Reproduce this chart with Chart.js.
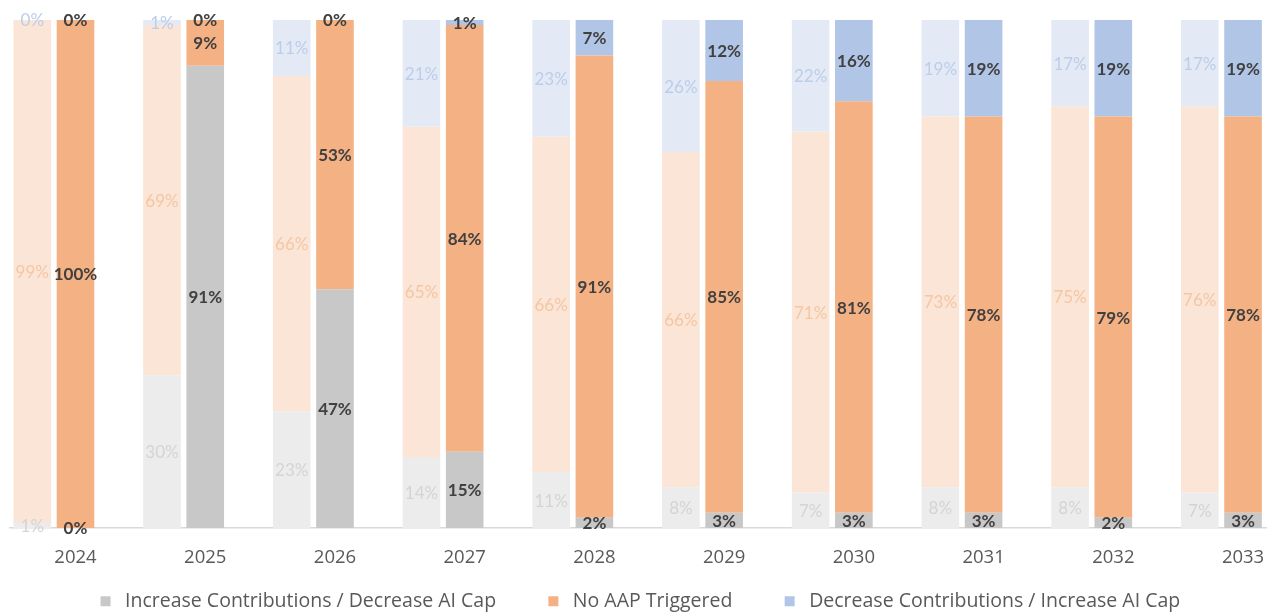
<!DOCTYPE html>
<html>
<head>
<meta charset="utf-8">
<script src="https://cdn.jsdelivr.net/npm/chart.js@4.4.1/dist/chart.umd.min.js"></script>
<style>
  html, body { margin: 0; padding: 0; background: #ffffff; overflow: hidden; }
  #wrap { width: 1276px; height: 612px; position: relative; }
</style>
</head>
<body>
<div id="wrap"><canvas id="chart"></canvas></div>
<script>
// Years on the x axis
const years = [2024, 2025, 2026, 2027, 2028, 2029, 2030, 2031, 2032, 2033];

// Series names
const seriesNames = [
  'Increase Contributions / Decrease AI Cap',
  'No AAP Triggered',
  'Decrease Contributions / Increase AI Cap'
];

// Prior-projection shares (%), drawn as the pale left bar of each year
const priorIncrease = [1, 30, 23, 14, 11, 8, 7, 8, 8, 7];
const priorNoAAP    = [99, 69, 66, 65, 66, 66, 71, 73, 75, 76];
const priorDecrease = [0, 1, 11, 21, 23, 26, 22, 19, 17, 17];

// Current-projection shares (%), drawn as the solid right bar of each year
const currIncrease  = [0, 91, 47, 15, 2, 3, 3, 3, 2, 3];
const currNoAAP     = [100, 9, 53, 84, 91, 85, 81, 78, 79, 78];
const currDecrease  = [0, 0, 0, 1, 7, 12, 16, 19, 19, 19];

// Colours
const solidColors = ['#c8c8c8', '#f4b183', '#b1c5e7'];
const paleColors  = ['#ececec', '#fbe5d6', '#e3eaf6'];
const paleText    = ['#d4d4d4', '#f5c6a3', '#bccde9'];
const solidText   = '#404040';

const LABEL_FONT = 'Lato, "Open Sans", "DejaVu Sans", sans-serif';
const AXIS_FONT = '"Open Sans", Lato, "DejaVu Sans", sans-serif';

function paleSet(i, values) {
  return {
    label: seriesNames[i], data: values, stack: 'prior',
    backgroundColor: paleColors[i], labelColor: paleText[i], labelWeight: 'normal',
    showInLegend: false
  };
}
function solidSet(i, values) {
  return {
    label: seriesNames[i], data: values, stack: 'current',
    backgroundColor: solidColors[i], labelColor: solidText, labelWeight: 'bold',
    showInLegend: true
  };
}

// Percent labels centred on every bar segment
const segmentLabels = {
  id: 'segmentLabels',
  afterDatasetsDraw(chart) {
    const ctx = chart.ctx;
    ctx.save();
    ctx.textAlign = 'center';
    ctx.textBaseline = 'middle';
    chart.data.datasets.forEach((ds, di) => {
      if (!ds.labelColor) return;
      const meta = chart.getDatasetMeta(di);
      if (meta.hidden) return;
      meta.data.forEach((bar, i) => {
        const v = ds.data[i];
        if (v === null || v === undefined) return;
        const p = bar.getProps(['x', 'y', 'base'], true);
        ctx.font = (ds.labelWeight === 'bold' ? 'bold ' : '') + '17px ' + LABEL_FONT;
        ctx.fillStyle = ds.labelColor;
        ctx.fillText(v + '%', p.x, (p.y + p.base) / 2 + 1);
      });
    });
    ctx.restore();
  }
};

new Chart(document.getElementById('chart'), {
  type: 'bar',
  data: {
    labels: years,
    datasets: [
      paleSet(0, priorIncrease), paleSet(1, priorNoAAP), paleSet(2, priorDecrease),
      solidSet(0, currIncrease), solidSet(1, currNoAAP), solidSet(2, currDecrease),
      // empty third slot that leaves the gap between years
      { label: '', data: [], stack: 'spacer', backgroundColor: 'rgba(0,0,0,0)', showInLegend: false }
    ]
  },
  options: {
    responsive: true,
    maintainAspectRatio: false,
    animation: false,
    layout: { padding: { left: 10, right: 10, top: 20, bottom: 0 } },
    datasets: { bar: { categoryPercentage: 1, barPercentage: 0.87, borderWidth: 0 } },
    scales: {
      x: {
        type: 'linear',
        stacked: true,
        bounds: 'data',
        min: 2023.495,
        max: 2033.177,
        offset: false,
        grid: { display: false, drawTicks: false },
        border: { display: true, color: '#d9d9d9', width: 1.5 },
        afterBuildTicks(scale) { scale.ticks = years.map(y => ({ value: y })); },
        afterFit(scale) { scale.height = 16; scale.paddingLeft = 0; scale.paddingRight = 0; },
        ticks: {
          color: '#595959',
          mirror: true,
          padding: -41,
          maxRotation: 0,
          autoSkip: false,
          font: { family: AXIS_FONT, size: 18.5 },
          callback: (v) => String(v)
        }
      },
      y: {
        stacked: true,
        display: false,
        min: 0,
        max: 100
      }
    },
    plugins: {
      tooltip: { enabled: false },
      legend: {
        position: 'bottom',
        maxHeight: 68,
        labels: {
          filter: (item, data) => data.datasets[item.datasetIndex].showInLegend,
          usePointStyle: true,
          pointStyle: 'rect',
          boxWidth: 19.5,
          boxHeight: 10,
          padding: 47.5,
          color: '#595959',
          font: { family: AXIS_FONT, size: 19.5 }
        }
      }
    }
  },
  plugins: [segmentLabels]
});
</script>
</body>
</html>
